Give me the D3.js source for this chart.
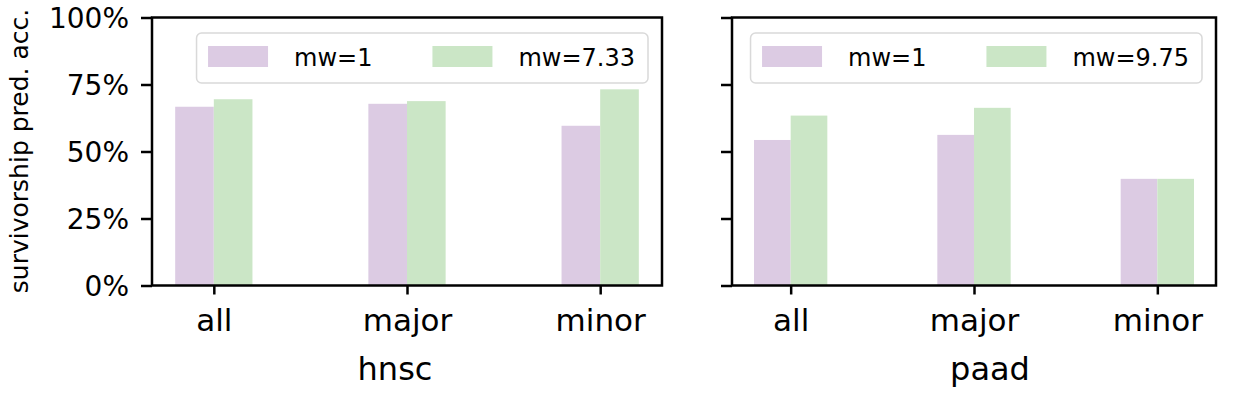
<!DOCTYPE html>
<html>
<head>
<meta charset="utf-8">
<script src="https://cdn.jsdelivr.net/npm/d3@7"></script>
<style>
  html, body { margin: 0; padding: 0; background: #fff; }
  svg { display: block; }
  text { font-family: "DejaVu Sans", sans-serif; fill: #000; }
</style>
</head>
<body>
<svg id="chart" width="1250" height="394"></svg>
<script>
// ---- data ----
const categories = ["all", "major", "minor"];
const panelNames = ["hnsc", "paad"];
const seriesLabelsHnsc = ["mw=1", "mw=7.33"];
const seriesLabelsPaad = ["mw=1", "mw=9.75"];
const hnscMw1 = [0.667, 0.678, 0.596];
const hnscMw2 = [0.695, 0.688, 0.732];
const paadMw1 = [0.543, 0.562, 0.398];
const paadMw2 = [0.634, 0.663, 0.398];
const yTicks = [0, 0.25, 0.5, 0.75, 1.0];
const yLabel = "survivorship pred. acc.";

(function () {
// ---- style ----
const colors = ["#dccbe3", "#cbe6c6"];
const barWidth = 0.2;

const svg = d3.select("#chart");
const axTop = 17.5, axBottom = 285.5;
const y = d3.scaleLinear().domain([0, 1]).range([axBottom, axTop]);

const panels = [
  { name: panelNames[0], left: 152, right: 662, series: [hnscMw1, hnscMw2], labels: seriesLabelsHnsc, showY: true, xlabelShift: -12 },
  { name: panelNames[1], left: 732, right: 1216, series: [paadMw1, paadMw2], labels: seriesLabelsPaad, showY: false, xlabelShift: 16 }
];

panels.forEach(p => {
  const x = d3.scaleLinear().domain([-0.32, 2.32]).range([p.left, p.right]);
  const g = svg.append("g");

  // bars
  p.series.forEach((vals, si) => {
    g.selectAll(null).data(vals).enter().append("rect")
      .attr("x", (d, i) => x(i + (si === 0 ? -barWidth : 0)))
      .attr("width", (d, i) => x(i + barWidth) - x(i))
      .attr("y", d => y(d))
      .attr("height", d => y(0) - y(d))
      .attr("fill", colors[si]);
  });

  // y axis
  const yAxis = d3.axisLeft(y).tickValues(yTicks).tickSizeOuter(0).tickSize(11).tickPadding(12)
    .tickFormat(p.showY ? d3.format(".0%") : () => "");
  const ya = g.append("g").attr("transform", `translate(${p.left},0)`).call(yAxis);
  ya.select(".domain").remove();
  ya.selectAll(".tick line").attr("stroke", "#000").attr("stroke-width", 2.5);
  ya.selectAll(".tick text").style("font-size", "28px").style("font-family", "DejaVu Sans").attr("dy", "0.36em");

  // x axis
  const xAxis = d3.axisBottom(x).tickValues([0, 1, 2]).tickSizeOuter(0).tickSize(9).tickPadding(14)
    .tickFormat(i => categories[i]);
  const xa = g.append("g").attr("transform", `translate(0,${axBottom})`).call(xAxis);
  xa.select(".domain").remove();
  xa.selectAll(".tick line").attr("stroke", "#000").attr("stroke-width", 2.5);
  xa.selectAll(".tick text").style("font-size", "31px").style("font-family", "DejaVu Sans");

  // spines
  g.append("rect").attr("x", p.left).attr("y", axTop)
    .attr("width", p.right - p.left).attr("height", axBottom - axTop)
    .attr("fill", "none").attr("stroke", "#000").attr("stroke-width", 2.5);

  // x label
  g.append("text").attr("x", (p.left + p.right) / 2 + p.xlabelShift).attr("y", 380)
    .attr("text-anchor", "middle").style("font-size", "32px").text(p.name);

  // legend
  const lg = g.append("g");
  const box = lg.append("rect");
  const padL = 11.5, patchW = 60, patchH = 21, gapT = 26, colGap = 60, padR = 13;
  let cx = padL;
  p.labels.forEach((lab, li) => {
    lg.append("rect").attr("x", cx).attr("y", 13).attr("width", patchW).attr("height", patchH).attr("fill", colors[li]);
    cx += patchW + gapT;
    const t = lg.append("text").attr("x", cx).attr("y", 24).attr("dy", "0.36em").style("font-size", "24px").text(lab);
    cx += t.node().getComputedTextLength();
    if (li < p.labels.length - 1) cx += colGap;
  });
  cx += padR;
  box.attr("x", 0).attr("y", 0).attr("width", cx).attr("height", 50).attr("rx", 5)
    .attr("fill", "#fff").attr("fill-opacity", 0.8).attr("stroke", "#d9d9d9").attr("stroke-width", 1.5);
  lg.attr("transform", `translate(${p.right - 14 - cx},${axTop + 15.5})`);
});

// y label
svg.append("text").attr("transform", `translate(28,151) rotate(-90)`)
  .attr("text-anchor", "middle").style("font-size", "25px").text(yLabel);
})();
</script>
</body>
</html>
